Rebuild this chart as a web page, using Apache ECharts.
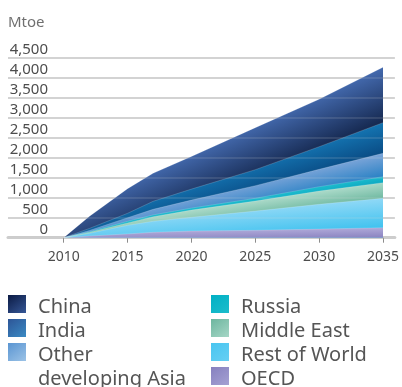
<!DOCTYPE html>
<html>
<head>
<meta charset="utf-8">
<script src="https://cdn.jsdelivr.net/npm/echarts@6/dist/echarts.min.js"></script>
<style>
    html, body { margin: 0; padding: 0; background: #fff; }
    #chart { width: 402px; height: 387px; }
</style>
</head>
<body>
<div id="chart"></div>
<script>
    // growth in demand since 2010, Mtoe (stacked, bottom layer first)
    var years = [2010, 2012, 2015, 2017, 2020, 2025, 2030, 2035];
    var oecd = [0, 40, 95, 135, 165, 185, 215, 250];
    var restOfWorld = [0, 70, 215, 275, 345, 480, 620, 735];
    var middleEast = [0, 25, 60, 115, 180, 250, 330, 390];
    var russia = [0, 15, 40, 45, 50, 70, 110, 150];
    var otherAsia = [0, 30, 90, 140, 200, 315, 435, 585];
    var india = [0, 50, 110, 200, 275, 400, 565, 765];
    var china = [0, 300, 615, 700, 815, 1050, 1185, 1385];
    var xTicks = [2010, 2015, 2020, 2025, 2030, 2035];

    var font = 'Noto Sans';
    var layers = [
        {name: 'OECD', data: oecd, c: ['#aea8d8', '#8a83c0'], icon: ['#8680bf', '#aba7d7']},
        {name: 'Rest of World', data: restOfWorld, c: ['#8fd8f6', '#3fc2ef'], icon: ['#48c5f0', '#6dd1f4']},
        {name: 'Middle East', data: middleEast, c: ['#a8d8c7', '#6fb9a1'], icon: ['#6db69f', '#b0dccd']},
        {name: 'Russia', data: russia, c: ['#1ab8cb', '#0ea9c2'], icon: ['#00b0c5', '#22bfcc']},
        {name: 'Other developing Asia', data: otherAsia, c: ['#7aa4d8', '#2a82c5'], icon: ['#5a95d2', '#a8cbea']},
        {name: 'India', data: india, c: ['#1474b1', '#0a4c85'], icon: ['#2d5597', '#3e95cc']},
        {name: 'China', data: china, c: ['#4369ad', '#15284f'], icon: ['#0b1a43', '#3e63a7']}
    ];

    // running totals: each layer is drawn from 0 up to its cumulative top,
    // upper layers first so the lower ones paint over them
    var running = years.map(function () { return 0; });
    layers.forEach(function (l) {
        l.lower = running.slice();
        running = running.map(function (v, i) { return v + l.data[i]; });
        l.top = running.slice();
    });

    function pairs(arr) {
        var out = [];
        for (var i = 0; i < years.length; i++) out.push([years[i], arr[i]]);
        return out;
    }
    function iconColor(l) {
        return {type: 'linear', x: 0, y: 0, x2: 1, y2: 1,
            colorStops: [{offset: 0, color: l.icon[0]}, {offset: 1, color: l.icon[1]}]};
    }
    // square in the top 18px of a 24px slot, so the text sits a little lower than the swatch
    var swatch = 'path://M0 0H18V18H0Z M0 24H0.01';
    function legendItem(name) {
        for (var i = 0; i < layers.length; i++) {
            if (layers[i].name === name) return {name: name, icon: swatch, itemStyle: {color: iconColor(layers[i])}};
        }
    }
    function legendBase(left, top, names) {
        return {
            orient: 'vertical', left: left, top: top, height: 120, padding: 0,
            itemWidth: 18, itemHeight: 24, itemGap: 0, selectedMode: false,
            textStyle: {fontFamily: font, fontSize: 20, lineHeight: 24, color: '#555', padding: [0, 0, 0, 7]},
            data: names.map(legendItem)
        };
    }

    var series = layers.slice().reverse().map(function (l) {
        return {
            name: l.name, type: 'line', data: pairs(l.top),
            showSymbol: false, symbol: 'none',
            lineStyle: {width: 0.6, color: 'rgba(255,255,255,0.3)'},
            areaStyle: {color: l.c[1], opacity: 1},
            itemStyle: {color: l.c[1]},
            emphasis: {disabled: true}
        };
    });

    var chart = echarts.init(document.getElementById('chart'));
    chart.setOption({
        animation: false,
        title: {text: 'Mtoe', left: 8, top: 15, padding: 0,
            textStyle: {fontFamily: font, fontSize: 15, fontWeight: 'normal', color: '#707070'}},
        legend: [
            legendBase(8, 295, ['China', 'India']),
            Object.assign(legendBase(8, 319, ['Other developing Asia']), {
                formatter: function (n) { return ' \n' + n.replace('Other ', 'Other\n'); }
            }),
            legendBase(211, 295, ['Russia', 'Middle East', 'Rest of World', 'OECD'])
        ],
        grid: {left: 8, right: 3, top: 57.7, bottom: 149.3},
        xAxis: {
            type: 'value', min: 2005.64, max: 2035.93,
            axisLine: {show: true, lineStyle: {color: '#cccccc', width: 3}},
            axisTick: {show: true, length: 5, customValues: xTicks, lineStyle: {color: '#8c8c8c'}},
            axisLabel: {customValues: xTicks, margin: 12, fontFamily: font, fontSize: 14, color: '#4d4d4d',
                formatter: function (v) { return String(v); }},
            splitLine: {show: false}
        },
        yAxis: [{
            type: 'value', min: 0, max: 4500, interval: 500,
            axisLine: {show: false}, axisTick: {show: false},
            // label sits just above its grid line
            axisLabel: {inside: true, align: 'right', verticalAlign: 'bottom', margin: 40,
                showMinLabel: true, showMaxLabel: true,
                formatter: function (v) { return '{v|' + echarts.format.addCommas(v) + '}'; },
                rich: {v: {fontFamily: font, fontSize: 15, lineHeight: 15, color: '#4d4d4d'}}},
            splitLine: {lineStyle: {color: '#d2d2d2', width: 2}}
        }, {
            // same scale again, only to let the grid lines shine faintly through the areas
            type: 'value', min: 0, max: 4500, interval: 500, z: 5,
            axisLine: {show: false}, axisTick: {show: false}, axisLabel: {show: false},
            splitLine: {lineStyle: {color: 'rgba(215,215,215,0.18)', width: 1.5}}
        }],
        series: series
    });

    // shade each band across its width, using the band's own pixel geometry
    var origin = chart.convertToPixel({gridIndex: 0}, [years[0], 0]);
    var last = years.length - 1;
    var colored = layers.slice().reverse().map(function (l) {
        var t = chart.convertToPixel({gridIndex: 0}, [years[last], l.top[last]]);
        var b = chart.convertToPixel({gridIndex: 0}, [years[last], l.lower[last]]);
        var mx = (t[0] + b[0]) / 2, my = (t[1] + b[1]) / 2;
        var ux = mx - origin[0], uy = my - origin[1];
        var len = Math.sqrt(ux * ux + uy * uy);
        ux /= len; uy /= len;
        var nx = -uy, ny = ux;
        var hw = Math.abs((t[0] - mx) * nx + (t[1] - my) * ny);
        return {
            name: l.name,
            areaStyle: {color: {type: 'linear', global: true,
                x: mx - hw * nx, y: my - hw * ny, x2: mx + hw * nx, y2: my + hw * ny,
                colorStops: [{offset: 0, color: l.c[0]}, {offset: 1, color: l.c[1]}]}}
        };
    });
    chart.setOption({series: colored});
</script>
</body>
</html>
